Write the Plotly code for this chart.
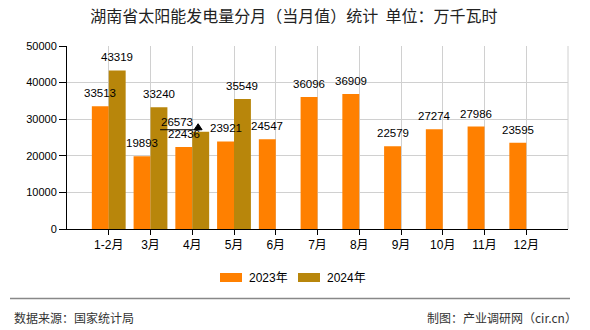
import plotly.graph_objects as go

# ---- data ----
categories = ["1-2月", "3月", "4月", "5月", "6月", "7月", "8月", "9月", "10月", "11月", "12月"]
values_2023 = [33513, 19893, 22436, 23921, 24547, 36096, 36909, 22579, 27274, 27986, 23595]
values_2024 = [43319, 33240, 26573, 35549, None, None, None, None, None, None, None]
series_names = ["2023年", "2024年"]
title_text = "湖南省太阳能发电量分月（当月值）统计&#160;&#160;单位：万千瓦时"
source_text = "数据来源：国家统计局"
credit_text = "制图：产业调研网（cir.cn）"

# ---- style ----
W, H = 590, 330
ML, MR, MT, MB = 67, 22, 46, 101
PW, PH = W - ML - MR, H - MT - MB
C23, C24 = "#FF8000", "#B8860B"
NUMFONT = "Liberation Sans, Arial, Noto Sans CJK SC"
CJKFONT = "Noto Sans CJK SC, Liberation Sans"
BARGAP = 0.19
OFF = (1 - BARGAP) / 4  # center offset of each bar in a group


def px(x):
    return (x - ML) / PW


def py(y):
    return (H - MB - y) / PH


fig = go.Figure()
fig.add_trace(go.Bar(x=categories, y=values_2023, name=series_names[0],
                     marker=dict(color=C23, line=dict(width=0)), showlegend=False))
fig.add_trace(go.Bar(x=categories, y=values_2024, name=series_names[1],
                     marker=dict(color=C24, line=dict(width=0)), showlegend=False))

annotations = []
shapes = []

# data labels
for i, v in enumerate(values_2023):
    annotations.append(dict(x=i - OFF, y=v, xref="x", yref="y", text=str(v), showarrow=False,
                            yanchor="bottom", yshift=5,
                            font=dict(family=NUMFONT, size=11.5, color="#000")))
for i, v in enumerate(values_2024):
    if v is None:
        continue
    if categories[i] == "4月":
        # displaced label with leader line
        annotations.append(dict(x=i + OFF, y=v, xref="x", yref="y", text=str(v), showarrow=False,
                                yanchor="middle", xshift=-24, yshift=10,
                                font=dict(family=NUMFONT, size=11.5, color="#000")))
        shapes.append(dict(type="line", xref="x", yref="y", ysizemode="pixel", yanchor=v,
                           x0=i - 0.77, x1=i + 0.19, y0=2, y1=2,
                           line=dict(color="#000", width=1)))
        shapes.append(dict(type="path", xref="x", yref="y", xsizemode="pixel", ysizemode="pixel",
                           xanchor=i + 0.14, yanchor=v,
                           path="M -4 2 L 0 8 L 4 2 Z", fillcolor="#000",
                           line=dict(color="#000", width=1)))
        continue
    annotations.append(dict(x=i + OFF, y=v, xref="x", yref="y", text=str(v), showarrow=False,
                            yanchor="bottom", yshift=5,
                            font=dict(family=NUMFONT, size=11.5, color="#000")))

# right border of plot
shapes.append(dict(type="line", xref="paper", yref="paper", x0=1, x1=1, y0=0, y1=1,
                   line=dict(color="#d0d0d0", width=1), layer="below"))

# custom legend
legend_items = [(series_names[0], C23, 220), (series_names[1], C24, 298)]
for name, col, lx in legend_items:
    shapes.append(dict(type="rect", xref="paper", yref="paper",
                       x0=px(lx), x1=px(lx + 22), y0=py(282), y1=py(273),
                       fillcolor=col, line=dict(width=0)))
    annotations.append(dict(x=px(lx + 27), y=py(277.5), xref="paper", yref="paper", text=name,
                            showarrow=False, xanchor="left", yanchor="middle",
                            font=dict(family=NUMFONT, size=12, color="#000")))

# footer separator
shapes.append(dict(type="line", xref="paper", yref="paper", x0=px(10), x1=px(570),
                   y0=py(298.5), y1=py(298.5), line=dict(color="#888", width=1.5)))
annotations.append(dict(x=px(12), y=py(317), xref="paper", yref="paper", text=source_text,
                        showarrow=False, xanchor="left", yanchor="middle",
                        font=dict(family=CJKFONT, size=12, color="#333")))
annotations.append(dict(x=px(579), y=py(317), xref="paper", yref="paper", text=credit_text,
                        showarrow=False, xanchor="right", yanchor="middle",
                        font=dict(family=CJKFONT, size=12, color="#333")))

fig.update_layout(
    width=W, height=H,
    margin=dict(l=ML, r=MR, t=MT, b=MB, pad=0),
    paper_bgcolor="white", plot_bgcolor="white",
    barmode="group", bargap=BARGAP, bargroupgap=0,
    title=dict(text=title_text, x=0.498, xref="container", xanchor="center",
               y=1 - 16 / H, yref="container", yanchor="middle",
               font=dict(family=CJKFONT, size=16, color="#222")),
    xaxis=dict(type="category", categoryorder="array", categoryarray=categories,
               range=[-1, len(categories)], showgrid=True, gridcolor="#d0d0d0", gridwidth=1,
               showline=True, linecolor="#000", linewidth=1,
               ticks="outside", ticklen=5, tickcolor="#000",
               tickfont=dict(family=NUMFONT, size=12, color="#000"), fixedrange=True),
    yaxis=dict(range=[0, 50000], dtick=10000, tickformat="d", showgrid=True,
               gridcolor="#d0d0d0", gridwidth=1, zeroline=False,
               showline=True, linecolor="#000", linewidth=1,
               ticks="outside", ticklen=7, tickcolor="#000",
               tickfont=dict(family=NUMFONT, size=11, color="#000"), fixedrange=True),
    annotations=annotations, shapes=shapes,
    showlegend=False,
)

fig.write_html("out.html")
